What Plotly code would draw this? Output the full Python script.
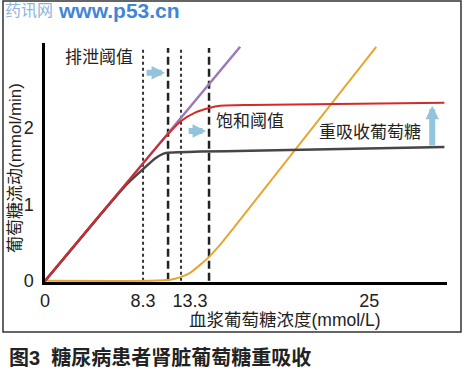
import plotly.graph_objects as go

# ---- data (x in schematic plasma-glucose units, y in mmol/min) ----
filtered_x = [0, 15.05]
filtered_y = [0, 3.06]

reabs_dm_x = [0, 7.56, 8.87, 9.49, 10.49, 11.57, 12.65, 13.5, 15.8, 30.8]
reabs_dm_y = [0, 1.537, 1.80, 1.92, 2.09, 2.20, 2.26, 2.29, 2.30, 2.33]

reabs_norm_x = [0, 4.24, 6.17, 7.56, 8.49, 9.26, 11.96, 15.8, 30.8]
reabs_norm_y = [0, 0.86, 1.24, 1.46, 1.60, 1.67, 1.69, 1.70, 1.75]

excr_x = [0, 8.1, 9.65, 10.49, 11.19, 11.96, 12.65, 13.5, 14.43, 25.54]
excr_y = [0, 0, 0.013, 0.052, 0.105, 0.209, 0.314, 0.47, 0.667, 3.06]

thr_normal = [7.56, 10.49]   # dotted
thr_dm = [9.49, 12.65]       # dashed
thr_top = 3.046

tick_pos = [0, 7.56, 11.19, 25.0]
tick_text = ["0", "8.3", "13.3", "25"]
ytick_vals = [0, 1, 2]

FONT = "Liberation Sans, Noto Sans CJK SC, sans-serif"
TXT = "#222222"
ARROW = "#93c4de"

fig = go.Figure()

for xv in thr_normal:
    fig.add_trace(go.Scatter(x=[xv, xv], y=[0, thr_top], mode="lines",
                             line=dict(color="#333333", width=2, dash="dot"),
                             hoverinfo="skip"))
for xv in thr_dm:
    fig.add_trace(go.Scatter(x=[xv, xv], y=[0, thr_top], mode="lines",
                             line=dict(color="#222222", width=2.5, dash="8px,4px"),
                             hoverinfo="skip"))

fig.add_trace(go.Scatter(x=filtered_x, y=filtered_y, mode="lines",
                         line=dict(color="#9a7ab8", width=2.5)))
fig.add_trace(go.Scatter(x=excr_x, y=excr_y, mode="lines",
                         line=dict(color="#e6a630", width=2, shape="spline", smoothing=0.5)))
fig.add_trace(go.Scatter(x=reabs_norm_x, y=reabs_norm_y, mode="lines",
                         line=dict(color="#4a4444", width=2.5, shape="spline", smoothing=0.5)))
fig.add_trace(go.Scatter(x=reabs_dm_x, y=reabs_dm_y, mode="lines",
                         line=dict(color="#d42a2a", width=2, shape="spline", smoothing=0.5)))

anns = []
def label(text, x, y, size=17, xref="x", yref="y", xanchor="center", **kw):
    anns.append(dict(text=text, x=x, y=y, xref=xref, yref=yref, showarrow=False,
                     xanchor=xanchor, yanchor="middle",
                     font=dict(family=FONT, size=size, color=kw.pop("color", TXT)), **kw))

label("排泄阈值", 4.17, 2.915)
label("滤过葡萄糖", 17.82, 3.25)
label("排泄葡萄糖", 27.93, 3.25)
label("饱和阈值", 15.82, 2.09)
label("重吸收葡萄糖", 25.08, 1.935)

# axis titles and caption (paper coords)
label("葡萄糖流动(mmol/min)", -0.0721, 0.477, xref="paper", yref="paper", textangle=-90)
label("血浆葡萄糖浓度(mmol/L)", 0.597, -0.16, size=17.5, xref="paper", yref="paper")
label("<b>图3  糖尿病患者肾脏葡萄糖重吸收</b>", -0.0945, -0.314, size=20,
      xref="paper", yref="paper", xanchor="left")
# watermark
label("药讯网", -0.1045, 1.137, size=16, xref="paper", yref="paper", xanchor="left",
      color="#8fb4dc")
label("<b>www.p53.cn</b>", 0.028, 1.137, size=21, xref="paper", yref="paper",
      xanchor="left", color="#3f86d6")

# arrows
def arrow(x0, y0, x1, y1):
    anns.append(dict(x=x1, y=y1, ax=x0, ay=y0, xref="x", yref="y", axref="x", ayref="y",
                     text="", showarrow=True, arrowhead=2, arrowsize=0.45,
                     arrowwidth=6, arrowcolor=ARROW, standoff=0))

arrow(7.72, 2.72, 9.26, 2.72)
arrow(10.96, 1.96, 12.42, 1.96)
arrow(29.86, 1.75, 29.86, 2.29)

fig.update_layout(
    width=465, height=375,
    margin=dict(l=45, r=18, t=43, b=93),
    paper_bgcolor="white", plot_bgcolor="white",
    showlegend=False,
    annotations=anns,
    shapes=[dict(type="rect", xref="paper", yref="paper",
                 x0=-0.1045, x1=1.0348, y0=-0.2092, y1=1.1757,
                 line=dict(color="#333333", width=1.5))],
    xaxis=dict(range=[0, 31.0], showgrid=False, zeroline=False, showline=True,
               linecolor="black", linewidth=2.5, tickvals=tick_pos, ticktext=tick_text,
               ticks="outside", ticklen=1, tickcolor="rgba(0,0,0,0)",
               tickfont=dict(family=FONT, size=18, color=TXT)),
    yaxis=dict(range=[-0.015, 3.11], showgrid=False, zeroline=False, showline=True,
               linecolor="black", linewidth=2.5, tickvals=ytick_vals,
               ticks="outside", ticklen=5, tickcolor="rgba(0,0,0,0)",
               tickfont=dict(family=FONT, size=18, color=TXT)),
)

fig.write_html("out.html", post_script="document.body.style.margin='0';",
               config={"displayModeBar": False})
